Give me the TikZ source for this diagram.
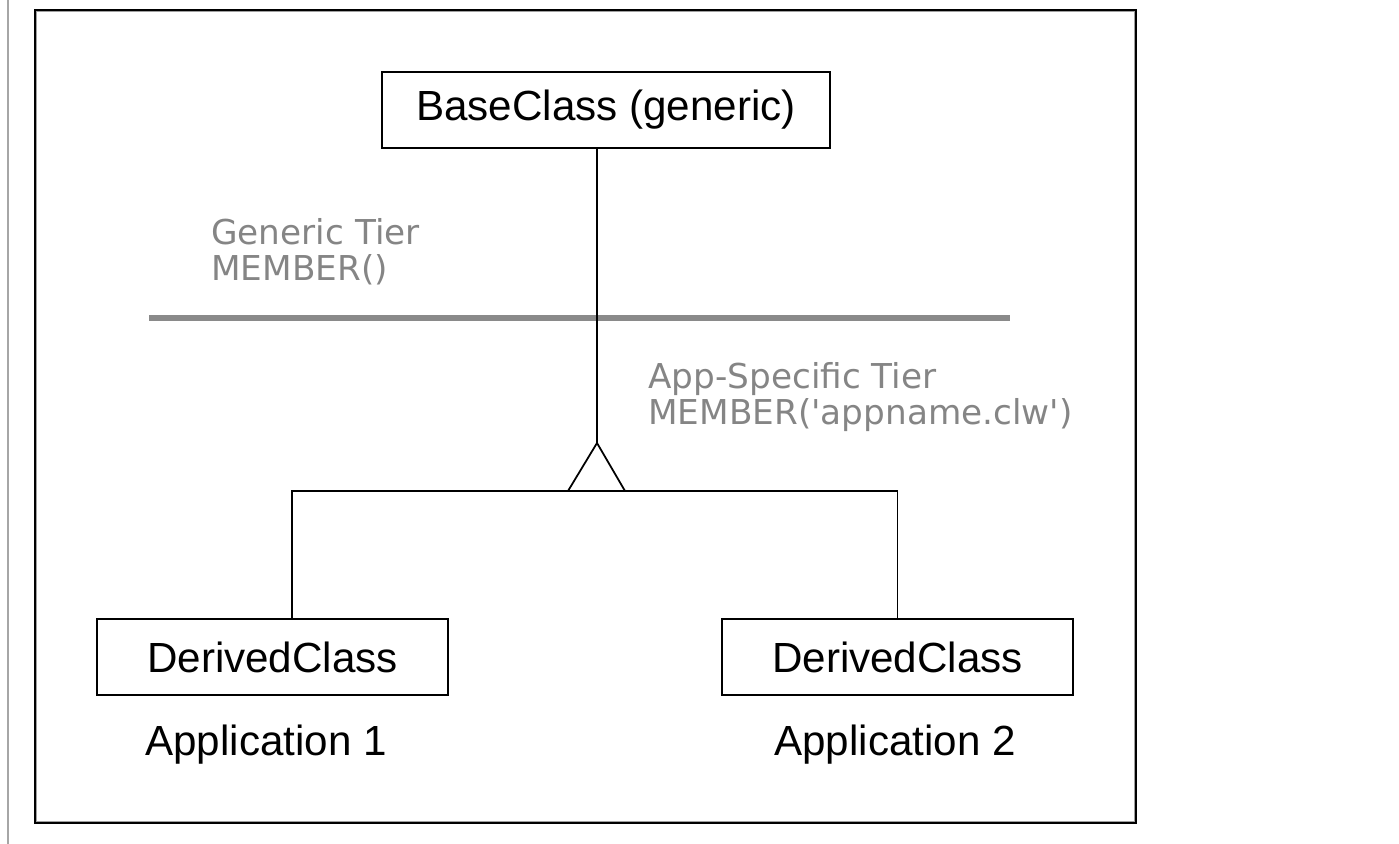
\documentclass[tikz,border=0pt]{standalone}
\usepackage{fontspec}
\setmainfont{Liberation Sans}
\newfontfamily\tierfont{DejaVu Sans}
\definecolor{tiergray}{HTML}{858585}
\definecolor{bargray}{HTML}{8A8A8A}
\begin{document}
\begin{tikzpicture}[x=0.02cm,y=-0.02cm,
    classbox/.style={draw, line width=1.1pt, inner sep=0pt, minimum height=1.52cm,
      font=\fontsize{24}{28}\selectfont},
    applabel/.style={anchor=base, font=\fontsize{24}{28}\selectfont},
    tierlabel/.style={text=tiergray, font=\tierfont\fontsize{19.5}{20.5}\selectfont,
      align=left, anchor=north west, inner sep=0pt},
    link/.style={line width=1pt}]

  \useasboundingbox (0,0) rectangle (1399,844);

  % page edge and frame
  \draw[gray!70, line width=1.2pt] (8,0) -- (8,844);
  \draw[line width=1.2pt] (35,10) rectangle (1136,823);
  \draw[gray!75, line width=0.6pt] (36.6,11.6) rectangle (1134.4,821.4);

  % classes
  \node[classbox, minimum width=8.96cm] (base) at (606,110) {BaseClass (generic)};
  \node[classbox, minimum width=7.02cm] (derived1) at (272.5,657) {DerivedClass};
  \node[classbox, minimum width=7.02cm] (derived2) at (897.5,657) {DerivedClass};
  \node[applabel] (app1) at (266,755) {Application 1};
  \node[applabel] (app2) at (895,755) {Application 2};

  % tiers
  \node[tierlabel] (generic) at (211,218) {Generic Tier\\MEMBER()};
  \node[tierlabel] (specific) at (648,362)
    {App-Specific Tier\\MEMBER(\textquotesingle appname.clw\textquotesingle)};
  \coordinate (tierL) at (149,318);
  \coordinate (tierR) at (1010,318);
  \draw[bargray, line width=3.4pt] (tierL) -- (tierR);

  % inheritance
  \coordinate (apex) at (597,443);
  \coordinate (joint) at (597,491);
  \draw[link] (base.south -| apex) -- (apex);
  \draw[link] (apex) -- ++(-29,48) -- ++(57,0) -- cycle;
  \draw[link] ([xshift=0.39cm]derived1.north) |- (joint) -| (derived2.north);

\end{tikzpicture}
\end{document}
